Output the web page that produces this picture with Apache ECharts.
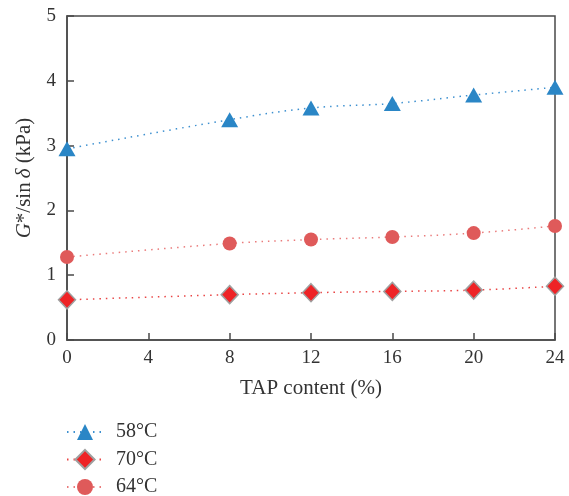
<!DOCTYPE html>
<html>
<head>
<meta charset="utf-8">
<script src="https://cdn.jsdelivr.net/npm/echarts@6/dist/echarts.min.js"></script>
<style>
  html, body { margin: 0; padding: 0; background: #fff; }
  #chart { width: 569px; height: 496px; }
</style>
</head>
<body>
<div id="chart"></div>
<script>
// TAP content (%) on the x axis
const tapContent = [0, 8, 12, 16, 20, 24];
// G*/sin δ (kPa) at each test temperature
const g58 = [2.95, 3.40, 3.58, 3.65, 3.78, 3.90];
const g70 = [0.62, 0.70, 0.73, 0.75, 0.77, 0.83];
const g64 = [1.28, 1.49, 1.55, 1.59, 1.65, 1.76];
const seriesNames = ['58°C', '70°C', '64°C'];

const serif = '"Liberation Serif", "DejaVu Serif", serif';
const axisColor = '#4a4a4a';
const textColor = '#333';

const pairs = vals => tapContent.map((x, i) => [x, vals[i]]);

// one legend block per entry, stacked down the lower left
const legendCenters = [432, 459.5, 487];
const legendIconH = [20, 24, 20];
const legends = seriesNames.map((name, i) => ({
  orient: 'vertical',
  left: 66, top: legendCenters[i] - legendIconH[i] / 2,
  itemWidth: 36, itemHeight: legendIconH[i],
  data: [name],
  textStyle: {
    fontFamily: serif, fontSize: 20, lineHeight: legendIconH[i], color: textColor,
    padding: [0, 0, 0, 8]
  },
  padding: 0
}));

const chart = echarts.init(document.getElementById('chart'), null, { renderer: 'canvas' });

chart.setOption({
  animation: false,
  backgroundColor: '#fff',
  grid: {
    left: 67, right: 14, top: 16, bottom: 156,
    show: true, borderColor: axisColor, borderWidth: 1.5, backgroundColor: 'transparent'
  },
  legend: legends,
  xAxis: {
    type: 'value',
    min: 0, max: 24, interval: 4,
    name: 'TAP content (%)',
    nameLocation: 'middle',
    nameGap: 38,
    nameTextStyle: { fontFamily: serif, fontSize: 21, color: textColor },
    axisLine: { show: true, lineStyle: { color: axisColor, width: 1.5 } },
    axisTick: { show: true, inside: true, length: 7, lineStyle: { color: axisColor, width: 1.5 } },
    axisLabel: { fontFamily: serif, fontSize: 19, color: textColor, margin: 9 },
    splitLine: { show: false }
  },
  yAxis: {
    type: 'value',
    min: 0, max: 5, interval: 1,
    name: '{i|G}*/sin\u2009{i|δ} (kPa)',
    nameLocation: 'middle',
    nameGap: 32,
    nameTextStyle: {
      fontFamily: serif, fontSize: 21, color: textColor,
      rich: { i: { fontFamily: serif, fontSize: 21, fontStyle: 'italic', color: textColor } }
    },
    axisLine: { show: true, lineStyle: { color: axisColor, width: 1.5 } },
    axisTick: { show: true, inside: true, length: 7, lineStyle: { color: axisColor, width: 1.5 } },
    axisLabel: { fontFamily: serif, fontSize: 19, color: textColor, margin: 11 },
    splitLine: { show: false }
  },
  series: [
    {
      name: '58°C',
      type: 'line',
      data: pairs(g58),
      smooth: 0.4,
      symbol: 'triangle',
      symbolSize: [17, 15],
      itemStyle: { color: '#2a86c6' },
      lineStyle: { color: '#3d90d0', width: 1.5, type: [1.5, 5] },
      z: 3
    },
    {
      name: '70°C',
      type: 'line',
      data: pairs(g70),
      smooth: 0.4,
      symbol: 'diamond',
      symbolSize: [17, 18],
      itemStyle: { color: '#ee2326', borderColor: '#a0a0a0', borderWidth: 1.5 },
      lineStyle: { color: '#e94545', width: 1.5, type: [1.5, 5] },
      z: 2
    },
    {
      name: '64°C',
      type: 'line',
      data: pairs(g64),
      smooth: 0.4,
      symbol: 'circle',
      symbolSize: 14,
      itemStyle: { color: '#df5a5a' },
      lineStyle: { color: '#ea7b7b', width: 1.5, type: [1.5, 5] },
      z: 2
    }
  ]
});
</script>
</body>
</html>
